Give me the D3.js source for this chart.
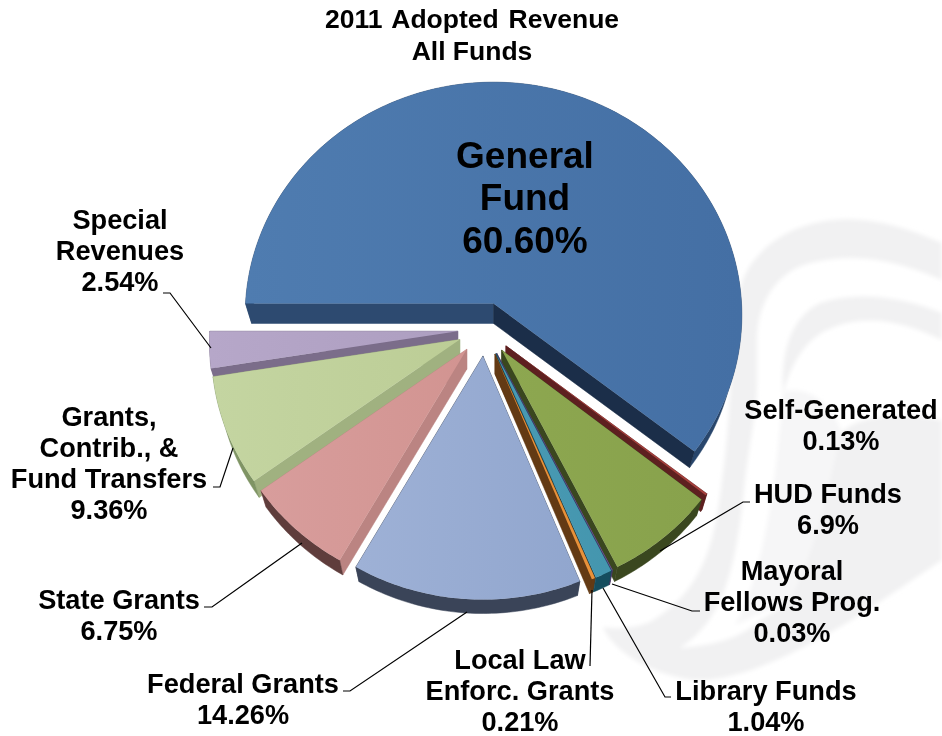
<!DOCTYPE html>
<html>
<head>
<meta charset="utf-8">
<script src="https://cdnjs.cloudflare.com/ajax/libs/d3/7.8.5/d3.min.js"></script>
<style>
  body { margin: 0; background: #fff; }
  svg { display: block; filter: blur(0.45px); }
  text { font-family: "Liberation Sans", Arial, sans-serif; font-weight: bold; fill: #000; text-anchor: middle; }
</style>
</head>
<body>
<svg width="942" height="736"></svg>
<script>
// Slices clockwise, starting at nine o'clock
var categories = ["General Fund", "Self-Generated", "HUD Funds", "Mayoral Fellows Prog.", "Library Funds",
    "Local Law Enforc. Grants", "Federal Grants", "State Grants", "Grants, Contrib., & Fund Transfers", "Special Revenues"];

// Angle each slice really takes in the picture. The printed labels add up to 101.82,
// the Grants slice is drawn smaller than its label says.
var shares = [60.6, 0.13, 6.9, 0.03, 1.04, 0.21, 14.26, 6.75, 7.54, 2.54];

var labelLines = [
    ["General", "Fund", "60.60%"],
    ["Self-Generated", "0.13%"],
    ["HUD Funds", "6.9%"],
    ["Mayoral", "Fellows Prog.", "0.03%"],
    ["Library Funds", "1.04%"],
    ["Local Law", "Enforc. Grants", "0.21%"],
    ["Federal Grants", "14.26%"],
    ["State Grants", "6.75%"],
    ["Grants,", "Contrib., &", "Fund Transfers", "9.36%"],
    ["Special", "Revenues", "2.54%"]
];

var titleLines = ["2011 Adopted Revenue", "All Funds"];

// Label anchors: centre x, first baseline
var labelAnchor = [[525, 167.6], [841, 418.6], [828, 502.6], [792, 579.6], [766, 700.2],
    [520, 669], [243, 693], [119, 608.6], [109, 425.6], [120, 228.7]];

// Leader lines, no leader on the General Fund
var leaders = [null, null,
    [[660, 551], [743, 502], [750, 502]],
    [[612, 584], [692, 611], [700, 611]],
    [[603, 588], [665, 697], [671, 697]],
    [[592, 590], [590, 666]],
    [[467, 612], [350, 691], [343, 691]],
    [[302, 543], [212, 607], [204, 607]],
    [[233, 448], [220, 487], [213, 487]],
    [[211, 348], [170, 293], [163, 293]]];

var topLight = ["#4f7cb0", "#a5403c", "#8da750", "#7d60a0", "#4a9ab4", "#e8913a", "#9eb1d6", "#d89d9c", "#c4d5a1", "#b6a7c9"];
var topDark = ["#446fa4", "#a5403c", "#88a24c", "#7d60a0", "#4496ae", "#e8913a", "#91a6ce", "#d29491", "#bccd96", "#ad9ec0"];
var startWall = ["#2d4a70", "#5e2020", "#3a471f", "#4a3a66", "#154d5e", "#633a14", "#3a4458", "#bb8482", "#a0b180", "#7b6d8a"];
var endWall = ["#1b2e49", "#5e2020", "#3a471f", "#4a3a66", "#154d5e", "#633a14", "#3a4458", "#bb8482", "#a0b180", "#7b6d8a"];
var arcWall = ["#28466c", "#5e2020", "#3a471f", "#4a3a66", "#154d5e", "#633a14", "#3a4458", "#5f3d3c", "#7f9464", "#7b6d8a"];

// Painter's order, back to front
var drawOrder = [0, 9, 8, 7, 1, 2, 3, 4, 5, 6];

// Pie geometry
var cx = 484.7, cy = 329,
    explode = 27,
    rx = 248, ry = 232.5,
    persX = 0.05, persY = 0.048,   // front of the pie is nearer to the viewer
    depth = 20, bottomScale = 0.975;

var svg = d3.select("svg");
var defs = svg.append("defs");

// Watermark behind the chart, soft edges
defs.append("filter").attr("id", "soft")
    .append("feGaussianBlur").attr("stdDeviation", 2);

var watermark = svg.append("g").attr("filter", "url(#soft)");

watermark.append("path").attr("fill", "#f6f6f7").attr("d",
    "M783,392 C805,385 830,400 842,432 L830,560 L790,600 L735,625 C760,580 775,500 783,392 Z");

watermark.append("path").attr("fill", "#f1f1f2").attr("d",
    "M942,560 L942,420 C900,412 860,415 842,432 C830,470 825,530 790,600 C760,625 720,640 680,648" +
    " C715,625 735,590 745,480 C750,440 757,410 757,383 L757,340 C757,300 780,268 815,262" +
    " C860,252 900,262 942,280 L942,243 C900,225 860,214 820,222 C775,230 745,262 740,290" +
    " C730,360 730,430 722,480 C715,540 705,590 650,622 C635,628 618,630 603,627" +
    " C610,645 640,672 693,680 C740,682 800,652 863,613 C890,595 920,575 942,560 Z");

watermark.append("path").attr("fill", "#f1f1f2").attr("d",
    "M942,313 C905,298 860,290 820,303 C795,315 780,345 783,395 C790,365 805,340 827,330 C865,312 905,322 942,340 Z");

watermark.append("path").attr("fill", "#fff").attr("d",
    "M680,648 C700,640 730,625 760,620 C745,635 720,645 680,648 Z");

// d3.pie gives the angles
var pie = d3.pie().sort(null).value(function(d) { return d; })
    .startAngle(-Math.PI / 2).endAngle(Math.PI * 1.5);

var slices = pie(shares);

// Point on a slice rim, in screen space
function rimPoint(apex, angle, scale, drop) {
    var sin = Math.sin(angle), front = -Math.cos(angle);
    return [
        apex[0] + scale * rx * sin * (1 + persX * front),
        apex[1] + drop + scale * ry * front * (1 + persY * front)
    ];
}

function rimPoints(d, apex, scale, drop) {
    var n = Math.max(2, Math.ceil((d.endAngle - d.startAngle) * 60));
    return d3.range(n + 1).map(function(i) {
        return rimPoint(apex, d.startAngle + (d.endAngle - d.startAngle) * i / n, scale, drop);
    });
}

var line = d3.line();

var pieGroup = svg.append("g");

drawOrder.forEach(function(i) {
    var d = slices[i];
    var mid = (d.startAngle + d.endAngle) / 2;
    var apex = [cx + explode * Math.sin(mid), cy - explode * Math.cos(mid)];
    var apexLow = [apex[0], apex[1] + depth];

    var upper = rimPoints(d, apex, 1, 0);
    var lower = rimPoints(d, apex, bottomScale, depth);
    var g = pieGroup.append("g").attr("class", "slice").attr("data-name", categories[i]);

    var walls = [
        { pts: [apex, upper[0], lower[0], apexLow], color: startWall[i] },
        { pts: [apex, upper[upper.length - 1], lower[lower.length - 1], apexLow], color: endWall[i] },
        { pts: upper.concat(lower.slice().reverse()), color: arcWall[i] }
    ];

    walls.sort(function(a, b) {
        return d3.mean(a.pts, function(p) { return p[1]; }) - d3.mean(b.pts, function(p) { return p[1]; });
    });

    g.selectAll(".wall")
        .data(walls)
        .enter().append("path")
        .attr("class", "wall")
        .attr("d", function(w) { return line(w.pts) + "Z"; })
        .attr("fill", function(w) { return w.color; })
        .attr("stroke", function(w) { return w.color; })
        .attr("stroke-width", 0.5);

    var grad = defs.append("linearGradient").attr("id", "top" + i);
    grad.append("stop").attr("offset", "0%").attr("stop-color", topLight[i]);
    grad.append("stop").attr("offset", "100%").attr("stop-color", topDark[i]);

    g.append("path")
        .attr("d", line([apex].concat(upper)) + "Z")
        .attr("fill", "url(#top" + i + ")");
});

// Leader lines
svg.append("g").selectAll("path")
    .data(leaders.filter(function(l) { return l; }))
    .enter().append("path")
    .attr("d", line)
    .attr("fill", "none")
    .attr("stroke", "#000")
    .attr("stroke-width", 1.2);

// Title, the gap after the year is a bit wider than a space
svg.append("g").selectAll("text")
    .data(titleLines)
    .enter().append("text")
    .attr("x", 472)
    .attr("y", function(d, i) { return 28 + i * 31.5; })
    .attr("font-size", 26.5)
    .attr("word-spacing", function(d, i) { return i === 0 ? 2.5 : 0; })
    .text(function(d) { return d; });

// Labels
var labels = svg.append("g").selectAll("text")
    .data(labelLines)
    .enter().append("text")
    .attr("font-size", function(d, i) { return i === 0 ? 37 : 27.2; });

labels.selectAll("tspan")
    .data(function(d, i) {
        return d.map(function(t, j) { return { text: t, row: j, slice: i }; });
    })
    .enter().append("tspan")
    .attr("x", function(d) { return labelAnchor[d.slice][0]; })
    .attr("y", function(d) { return labelAnchor[d.slice][1] + d.row * (d.slice === 0 ? 42.5 : 31.2); })
    .text(function(d) { return d.text; });
</script>
</body>
</html>
